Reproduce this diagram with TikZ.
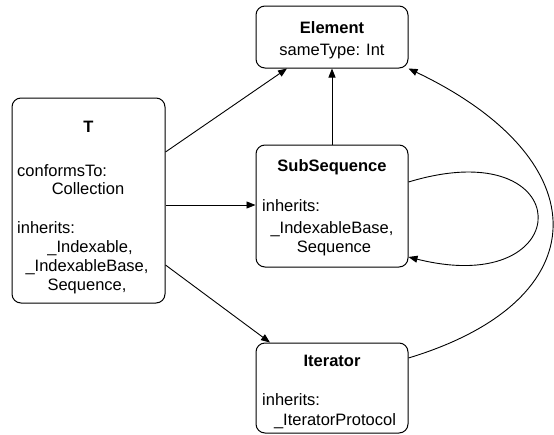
\documentclass[tikz,border=0pt]{standalone}
\usepackage{fontspec}
\setmainfont{Liberation Sans}
\usetikzlibrary{arrows.meta}
\begin{document}
\begin{tikzpicture}[x=1pt,y=-1pt,
  box/.style={draw=black,line width=1pt,rounded corners=9pt,minimum width=152pt,inner sep=0pt,fill=white},
  txt/.style={inner sep=0pt,anchor=base,font=\fontsize{16.5}{19}\selectfont},
  ltxt/.style={txt,anchor=base west},
  ttl/.style={txt,font=\fontsize{16.5}{19}\selectfont\bfseries},
  conn/.style={draw=black,line width=0.9pt,-{Triangle[length=9pt,width=7pt]}}]
\useasboundingbox (0,0) rectangle (554,434);
% boxes
\node[box,minimum height=62pt] (E) at (332,37) {};
\node[box,minimum width=153pt,minimum height=205pt] (T) at (88.5,200.5) {};
\node[box,minimum height=122pt] (S) at (332,206) {};
\node[box,minimum height=90pt] (I) at (332,388) {};
% Element
\node[ttl] (Et) at (332,33) {Element};
\node[txt] (Ea) at (332,55) {sameType: Int};
% T
\node[ttl] (Tt) at (88.5,132.7) {T};
\node[ltxt] (Tc) at (17,176.5) {conformsTo:};
\node[txt] (Tc1) at (88,194.5) {Collection};
\node[ltxt] (Ti) at (17,233) {inherits:};
\node[txt] (Ti1) at (90,252) {\_Indexable,};
\node[txt] (Ti2) at (87,271.5) {\_IndexableBase,};
\node[txt] (Ti3) at (87,290) {Sequence,};
% SubSequence
\node[ttl] (St) at (332,171.7) {SubSequence};
\node[ltxt] (Si) at (262,211.7) {inherits:};
\node[txt] (Si1) at (332,233) {\_IndexableBase,};
\node[txt] (Si2) at (334,252) {Sequence};
% Iterator
\node[ttl] (It) at (332,366) {Iterator};
\node[ltxt] (Ii) at (262,405) {inherits:};
\node[txt] (Ii1) at (335,425) {\_IteratorProtocol};
% connectors
\draw[conn] (T.east |- 0,152) -- (E.south -| 287,0);
\draw[conn] (S.north) -- (E.south);
\draw[conn] (T.east |- 0,205) -- (S.west |- 0,205);
\draw[conn] (T.east |- 0,265) -- (I.north -| 270,0);
\draw[conn] (S.east |- 0,182) .. controls (580,130) and (580,300) .. (S.east |- 0,257);
\draw[conn] (I.east |- 0,358) .. controls (600,300) and (600,160) .. (E.south east);
\end{tikzpicture}
\end{document}
